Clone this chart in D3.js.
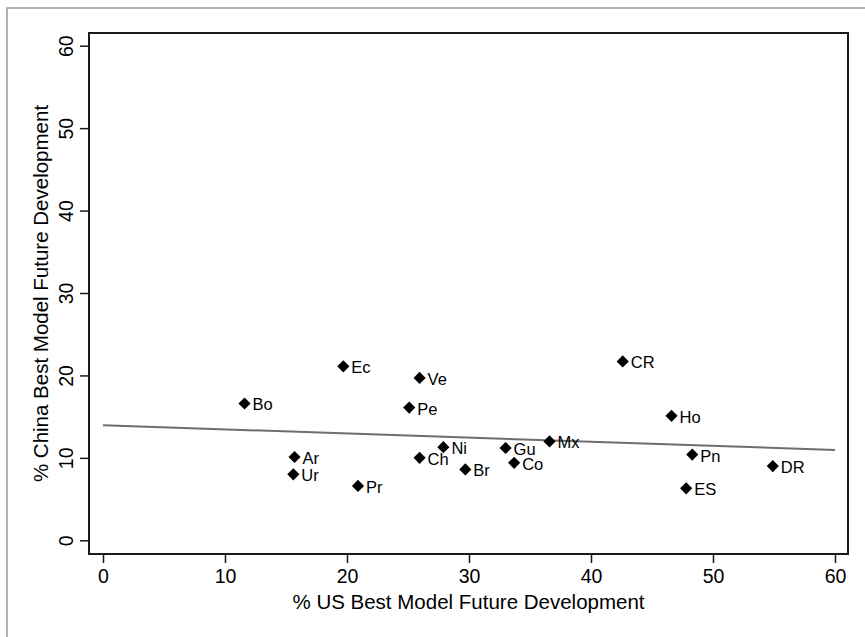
<!DOCTYPE html>
<html>
<head>
<meta charset="utf-8">
<script src="https://cdn.jsdelivr.net/npm/d3@7"></script>
<style>
  html, body { margin: 0; padding: 0; background: #fff; }
  svg { display: block; font-family: "Liberation Sans", Arial, Helvetica, sans-serif; }
</style>
</head>
<body>
<svg id="chart" width="865" height="637"></svg>
<script>
// country codes and shares (%)
const countries = ['Ec', 'Ve', 'Bo', 'Pe', 'Ar', 'Ur', 'Pr', 'Ch', 'Ni', 'Br', 'Gu', 'Co', 'Mx', 'CR', 'Ho', 'Pn', 'DR', 'ES'];
const usBest = [19.7, 25.95, 11.6, 25.1, 15.7, 15.6, 20.9, 25.95, 27.9, 29.7, 33.0, 33.7, 36.6, 42.6, 46.6, 48.3, 54.9, 47.8];
const chinaBest = [21.1, 19.7, 16.6, 16.1, 10.1, 8.0, 6.6, 10.0, 11.3, 8.6, 11.2, 9.4, 12.0, 21.7, 15.1, 10.4, 9.0, 6.3];
const xTicks = [0, 10, 20, 30, 40, 50, 60];
const yTicks = [0, 10, 20, 30, 40, 50, 60];

const points = countries.map((c, i) => ({ name: c, x: usBest[i], y: chinaBest[i] }));

const svg = d3.select('#chart');
const plot = { left: 89, right: 848, top: 33, bottom: 554 };

// outer frame (top and left only, like the cropped graph window)
svg.append('path')
  .attr('d', 'M7,637 V8 H865')
  .attr('fill', 'none')
  .attr('stroke', '#9a9a9a')
  .attr('stroke-width', 1.5);

const x = d3.scaleLinear().domain([0, 60]).range([103, 835]);
const y = d3.scaleLinear().domain([0, 60]).range([540.3, 45.7]);

// plot region box
svg.append('rect')
  .attr('x', plot.left)
  .attr('y', plot.top)
  .attr('width', plot.right - plot.left)
  .attr('height', plot.bottom - plot.top)
  .attr('fill', 'none')
  .attr('stroke', '#1a1a1a')
  .attr('stroke-width', 2);

// x axis
const xAxis = svg.append('g')
  .attr('transform', `translate(0,${plot.bottom})`)
  .call(d3.axisBottom(x).tickValues(xTicks).tickSize(9).tickPadding(6).tickFormat(d3.format('d')));
xAxis.select('.domain').remove();
xAxis.selectAll('.tick line').attr('stroke', '#1a1a1a').attr('stroke-width', 1.5);
xAxis.selectAll('.tick text').attr('font-size', 19.5).attr('fill', '#000')
  .attr('font-family', '"Liberation Sans", Arial, sans-serif');

// y axis, labels rotated as in Stata
const yAxis = svg.append('g')
  .attr('transform', `translate(${plot.left},0)`)
  .call(d3.axisLeft(y).tickValues(yTicks).tickSize(9).tickFormat(d3.format('d')));
yAxis.select('.domain').remove();
yAxis.selectAll('.tick line').attr('stroke', '#1a1a1a').attr('stroke-width', 1.5);
yAxis.selectAll('.tick text')
  .attr('font-size', 19.5).attr('fill', '#000')
  .attr('font-family', '"Liberation Sans", Arial, sans-serif')
  .attr('x', null).attr('dy', null)
  .attr('text-anchor', 'middle')
  .attr('transform', 'translate(-16,0) rotate(-90)');

// axis titles
svg.append('text')
  .attr('x', (plot.left + plot.right) / 2)
  .attr('y', 609)
  .attr('text-anchor', 'middle')
  .attr('font-size', 20.5)
  .text('% US Best Model Future Development');

svg.append('text')
  .attr('transform', `translate(48,${(plot.top + plot.bottom) / 2}) rotate(-90)`)
  .attr('text-anchor', 'middle')
  .attr('font-size', 20.5)
  .text('% China Best Model Future Development');

// least squares fit line
const mx = d3.mean(usBest), my = d3.mean(chinaBest);
const slope = d3.sum(usBest, (v, i) => (v - mx) * (chinaBest[i] - my)) / d3.sum(usBest, v => (v - mx) ** 2);
const fit = xTicks.filter(t => t === 0 || t === 60).map(t => [t, my + slope * (t - mx)]);

svg.append('path')
  .datum(fit)
  .attr('d', d3.line().x(d => x(d[0])).y(d => y(d[1])))
  .attr('fill', 'none')
  .attr('stroke', '#6e6e6e')
  .attr('stroke-width', 2);

// markers
const diamond = d3.symbol().type(d3.symbolSquare).size(74);
const g = svg.append('g');
g.selectAll('path.pt')
  .data(points)
  .enter()
  .append('path')
  .attr('class', 'pt')
  .attr('d', diamond)
  .attr('transform', d => `translate(${x(d.x)},${y(d.y)}) rotate(45)`)
  .attr('fill', '#000');

g.selectAll('text.lbl')
  .data(points)
  .enter()
  .append('text')
  .attr('class', 'lbl')
  .attr('x', d => x(d.x) + 8)
  .attr('y', d => y(d.y) + 7)
  .attr('font-size', 16.5)
  .attr('fill', '#000')
  .text(d => d.name);
</script>
</body>
</html>
